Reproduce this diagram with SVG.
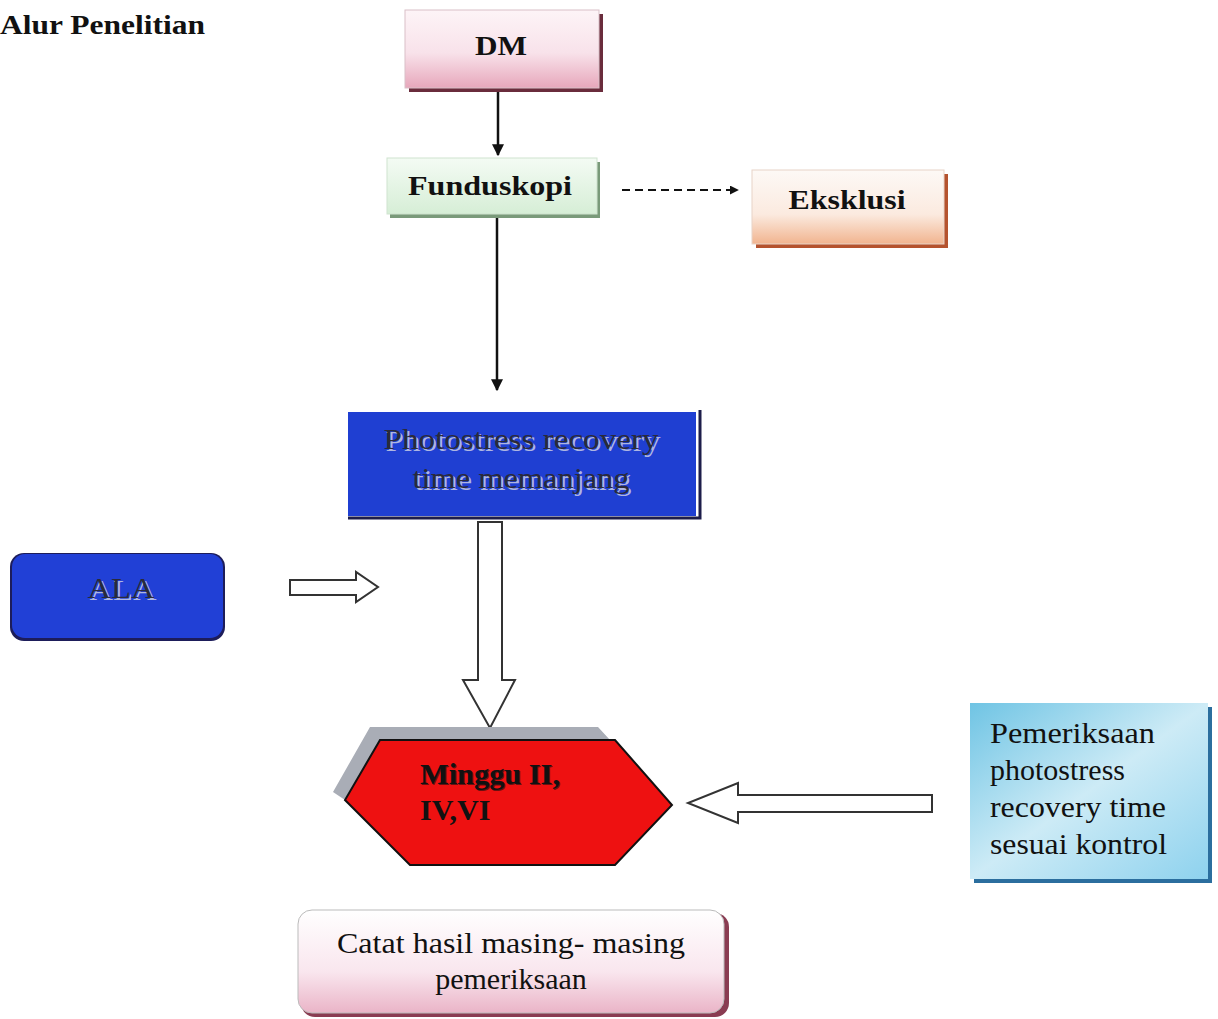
<svg xmlns="http://www.w3.org/2000/svg" width="1218" height="1019" viewBox="0 0 1218 1019">
<defs>
<linearGradient id="gPink" x1="0" y1="0" x2="0" y2="1"><stop offset="0" stop-color="#fdf4f7"/><stop offset="0.55" stop-color="#f8e2ea"/><stop offset="1" stop-color="#e7a7bb"/></linearGradient>
<linearGradient id="gGreen" x1="0" y1="0" x2="0" y2="1"><stop offset="0" stop-color="#f4fbf4"/><stop offset="1" stop-color="#d6eed6"/></linearGradient>
<linearGradient id="gOrange" x1="0" y1="0" x2="0" y2="1"><stop offset="0" stop-color="#fdf9f6"/><stop offset="0.6" stop-color="#fbeadf"/><stop offset="1" stop-color="#f1b48f"/></linearGradient>
<linearGradient id="gCyan" x1="0" y1="0" x2="1" y2="1"><stop offset="0" stop-color="#6fc4e4"/><stop offset="0.5" stop-color="#cdebf6"/><stop offset="1" stop-color="#8ed2ee"/></linearGradient>
<linearGradient id="gPink2" x1="0" y1="0" x2="0" y2="1"><stop offset="0" stop-color="#ffffff"/><stop offset="0.6" stop-color="#f9e6ee"/><stop offset="1" stop-color="#eab4c7"/></linearGradient>
<marker id="ah" viewBox="0 0 10 10" refX="9" refY="5" markerWidth="9" markerHeight="9" orient="auto" markerUnits="userSpaceOnUse"><path d="M0,0 L10,5 L0,10 z" fill="#111"/></marker>
<marker id="ah2" viewBox="0 0 10 10" refX="9" refY="5" markerWidth="12" markerHeight="12" orient="auto" markerUnits="userSpaceOnUse"><path d="M0,0 L10,5 L0,10 z" fill="#111"/></marker>
</defs>
<style>
text{font-family:"Liberation Serif","Times New Roman",serif;fill:#111}
.b{font-weight:bold}
.sh{fill:#2a2a3a}
.hl{fill:#aeb6e2}
.blk{fill:#fff;stroke:#333;stroke-width:2}
</style>
<text class="b" x="0" y="34" font-size="28" textLength="205" lengthAdjust="spacingAndGlyphs">Alur Penelitian</text>

<g id="connectors">
<line x1="498" y1="90" x2="498" y2="155" stroke="#111" stroke-width="2.5" marker-end="url(#ah2)"/>
<line x1="622" y1="190" x2="738" y2="190" stroke="#111" stroke-width="2" stroke-dasharray="8,5" marker-end="url(#ah)"/>
<line x1="497" y1="216" x2="497" y2="390" stroke="#111" stroke-width="2.5" marker-end="url(#ah2)"/>
<path class="blk" d="M478,522 L502,522 L502,680 L515,680 L490,728 L463,680 L478,680 Z"/>
<path class="blk" d="M290,580 L356,580 L356,572 L378,587 L356,602 L356,595 L290,595 Z"/>
<path class="blk" d="M932,795 L738,795 L738,783 L688,803 L738,823 L738,812 L932,812 Z"/>
</g>

<g id="dm">
<rect x="409" y="14" width="194" height="78" fill="#6a2c3c"/>
<rect x="405" y="10" width="194" height="78" fill="url(#gPink)" stroke="#d9c0c8" stroke-width="1"/>
<text class="b" x="501" y="55" font-size="28" text-anchor="middle" textLength="52" lengthAdjust="spacingAndGlyphs">DM</text>
</g>

<g id="funduskopi">
<rect x="390" y="162" width="210" height="56" fill="#7a9a7a"/>
<rect x="387" y="158" width="210" height="56" fill="url(#gGreen)" stroke="#cfe3cf" stroke-width="1"/>
<text class="b" x="490" y="195" font-size="28" text-anchor="middle" textLength="164" lengthAdjust="spacingAndGlyphs">Funduskopi</text>
</g>

<g id="eksklusi">
<rect x="756" y="174" width="192" height="74" fill="#b5532e"/>
<rect x="752" y="170" width="192" height="74" fill="url(#gOrange)" stroke="#e8d4c8" stroke-width="1"/>
<text class="b" x="847" y="209" font-size="28" text-anchor="middle" textLength="117" lengthAdjust="spacingAndGlyphs">Eksklusi</text>
</g>

<g id="photostress">
<polyline points="348,518 700,518 700,410" fill="none" stroke="#1d1d4a" stroke-width="3"/>
<rect x="348" y="412" width="348" height="104" fill="#1f3fd2"/>
<text x="523" y="451" font-size="30" text-anchor="middle" class="hl" textLength="275" lengthAdjust="spacingAndGlyphs">Photostress recovery</text>
<text x="521" y="449" font-size="30" text-anchor="middle" class="sh" textLength="275" lengthAdjust="spacingAndGlyphs">Photostress recovery</text>
<text x="523" y="490" font-size="30" text-anchor="middle" class="hl" textLength="217" lengthAdjust="spacingAndGlyphs">time memanjang</text>
<text x="521" y="488" font-size="30" text-anchor="middle" class="sh" textLength="217" lengthAdjust="spacingAndGlyphs">time memanjang</text>
</g>

<g id="ala">
<rect x="10" y="553" width="215" height="88" rx="14" fill="#1d1d5a"/>
<rect x="12" y="554" width="211" height="84" rx="13" fill="#2140d6"/>
<text x="123" y="600" font-size="30" text-anchor="middle" class="hl" textLength="67" lengthAdjust="spacingAndGlyphs">ALA</text>
<text x="121" y="598" font-size="30" text-anchor="middle" class="sh" textLength="67" lengthAdjust="spacingAndGlyphs">ALA</text>
</g>

<g id="minggu">
<polygon points="333,792 370,727 598,727 610,740 380,740 345,800" fill="#a9adb6"/>
<polygon points="380,740 615,740 672,805 615,865 410,865 345,800" fill="#ee1111" stroke="#111" stroke-width="2"/>
<text class="b" x="421" y="785" font-size="30" style="fill:#6a1010" textLength="140" lengthAdjust="spacingAndGlyphs">Minggu II,</text>
<text class="b" x="420" y="784" font-size="30" textLength="140" lengthAdjust="spacingAndGlyphs">Minggu II,</text>
<text class="b" x="420" y="820" font-size="30">IV,VI</text>
</g>

<g id="pemeriksaan">
<rect x="974" y="707" width="238" height="176" fill="#2b6e9e"/>
<rect x="970" y="703" width="238" height="176" fill="url(#gCyan)"/>
<text x="990" y="743" font-size="30" textLength="165" lengthAdjust="spacingAndGlyphs">Pemeriksaan</text>
<text x="990" y="780" font-size="30">photostress</text>
<text x="990" y="817" font-size="30" textLength="176" lengthAdjust="spacingAndGlyphs">recovery time</text>
<text x="990" y="854" font-size="30" textLength="177" lengthAdjust="spacingAndGlyphs">sesuai kontrol</text>
</g>

<g id="catat">
<rect x="301" y="913" width="428" height="104" rx="14" fill="#8a3c52"/>
<rect x="298" y="910" width="426" height="103" rx="14" fill="url(#gPink2)" stroke="#bbb" stroke-width="1"/>
<text x="511" y="953" font-size="30" text-anchor="middle" textLength="348" lengthAdjust="spacingAndGlyphs">Catat hasil masing- masing</text>
<text x="511" y="989" font-size="30" text-anchor="middle">pemeriksaan</text>
</g>
</svg>
